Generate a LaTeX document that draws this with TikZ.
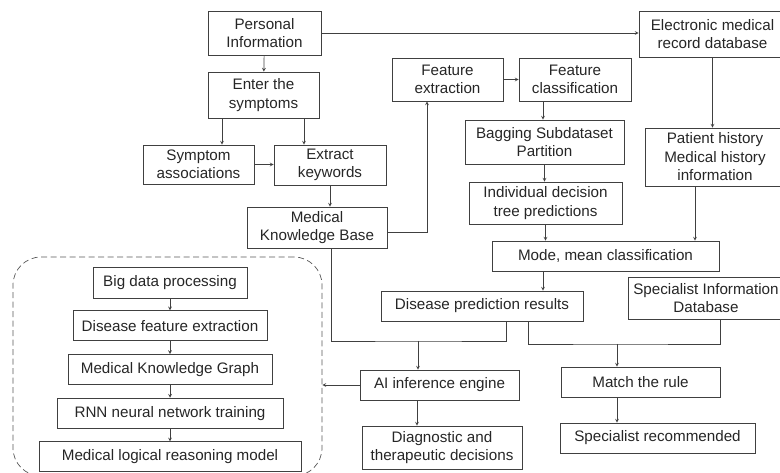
\documentclass[tikz,border=0pt]{standalone}
\usepackage{fontspec}
\setmainfont{Liberation Sans}
\usepackage{tikz}
\usetikzlibrary{shapes.geometric, arrows, positioning}

\begin{document}
\begin{tikzpicture}[x=1pt, y=-1pt,
            node distance=13pt,
            box/.style={draw, rectangle, minimum height=30pt, inner sep=0pt, align=center, draw=black!75, text=black!85, line width=0.7pt, font=\fontsize{15.2}{18.5}\selectfont},
            group/.style={draw=black!65, rectangle, dashed, dash pattern=on 6pt off 3.5pt, rounded corners=28pt, line width=0.7pt, minimum width=309pt, minimum height=219pt},
            arrow/.style={->,>=stealth, draw=black!75, line width=0.7pt}]

            \useasboundingbox (0,0) rectangle (780,473);

            % Nodes
            \node (pinfo) [box, minimum width=113pt, minimum height=44pt] at (264.5,33) {Personal\\Information};
            \node (symp) [box, minimum width=111pt, minimum height=46pt] at (263.5,95) {Enter the\\symptoms};
            \node (assoc) [box, minimum width=111pt, minimum height=39pt] at (198.5,164.5) {Symptom\\associations};
            \node (kw) [box, minimum width=112pt, minimum height=40pt] at (330,165) {Extract\\keywords};
            \node (mkb) [box, minimum width=140pt, minimum height=41pt] at (317,227.5) {Medical\\Knowledge Base};
            \node (emr) [box, minimum width=147pt, minimum height=46pt] at (712.5,34) {Electronic medical\\record database};
            \node (fext) [box, minimum width=111pt, minimum height=43pt] at (447.5,79.5) {Feature\\extraction};
            \node (fcls) [box, minimum width=112pt, minimum height=43pt] at (575,79.5) {Feature\\classification};
            \node (bag) [box, minimum width=159pt, minimum height=44pt] at (544.5,142) {Bagging Subdataset\\Partition};
            \node (indiv) [box, minimum width=153pt, minimum height=42pt] at (545.5,203) {Individual decision\\tree predictions};
            \node (phist) [box, minimum width=140pt, minimum height=58pt] at (715,157) {Patient history\\Medical history\\information};
            \node (mode) [box, minimum width=227pt] at (605.5,256) {Mode, mean classification};
            \node (dpred) [box, minimum width=202pt] at (482,306) {Disease prediction results};
            \node (spec) [box, minimum width=156pt, minimum height=42pt] at (706,298) {Specialist Information\\Database};
            \node (match) [box, minimum width=159pt] at (640.5,382) {Match the rule};
            \node (srec) [box, minimum width=195pt] at (657.5,438) {Specialist recommended};
            \node (ai) [box, minimum width=159pt] at (439.5,385) {AI inference engine};
            \node (diag) [box, minimum width=160pt, minimum height=43pt] at (442,447.5) {Diagnostic and\\therapeutic decisions};

            % Reasoning model group
            \node (grp) [group] at (167.5,366.5) {};
            \node (big) [box, minimum width=154pt, minimum height=31pt] at (170,282.5) {Big data processing};
            \node (dfe) [box, minimum width=194pt, below=12pt of big] {Disease feature extraction};
            \node (mkg) [box, minimum width=204pt, below=of dfe] {Medical Knowledge Graph};
            \node (rnn) [box, minimum width=226pt, below=of mkg] {RNN neural network training};
            \node (mlr) [box, minimum width=262pt, below=of rnn] {Medical logical reasoning model};

            \coordinate (j1) at (418,341);
            \coordinate (j2) at (617,344);

            % Arrows
            \draw [arrow] (pinfo) -- (symp);
            \draw [arrow] (pinfo.east) -- (pinfo.east -| emr.west);
            \draw [arrow] ([xshift=-41.5pt]symp.south) -- ([xshift=-41.5pt]symp.south |- assoc.north);
            \draw [arrow] ([xshift=40.5pt]symp.south) -- ([xshift=40.5pt]symp.south |- kw.north);
            \draw [arrow] (assoc.east) -- (assoc.east -| kw.west);
            \draw [arrow] (kw.south) -- (kw.south |- mkb.north);
            \draw [arrow] ([yshift=-4.5pt]mkb.east) -| ([xshift=-20.5pt]fext.south);
            \draw [arrow] (fext) -- (fcls);
            \draw [arrow] ([xshift=-32pt]fcls.south) -- ([xshift=-32pt]fcls.south |- bag.north);
            \draw [arrow] (bag.south) -- (bag.south |- indiv.north);
            \draw [arrow] (indiv.south) -- (indiv.south |- mode.north);
            \draw [arrow] (emr.south) -- (emr.south |- phist.north);
            \draw [arrow] ([xshift=-20pt]phist.south) -- ([xshift=-20pt]phist.south |- mode.north);
            \draw [arrow] ([xshift=-62.5pt]mode.south) -- ([xshift=-62.5pt]mode.south |- dpred.north);
            \draw [arrow, -] ([xshift=14pt]mkb.south) |- (j1) -| ([xshift=24pt]dpred.south);
            \draw [arrow] (j1) -- (j1 |- ai.north);
            \draw [arrow, -] ([xshift=46pt]dpred.south) |- (j2) -| ([xshift=14pt]spec.south);
            \draw [arrow] (j2) -- (j2 |- match.north);
            \draw [arrow] ([xshift=-23.5pt]match.south) -- ([xshift=-23.5pt]match.south |- srec.north);
            \draw [arrow] ([xshift=-22.5pt]ai.south) -- ([xshift=-22.5pt]ai.south |- diag.north);
            \draw [arrow] (ai.west) -- (ai.west -| grp.east);
            \foreach \a/\b in {big/dfe, dfe/mkg, mkg/rnn, rnn/mlr}
                \draw [arrow] (\a) -- (\b);
        \end{tikzpicture}
\end{document}
